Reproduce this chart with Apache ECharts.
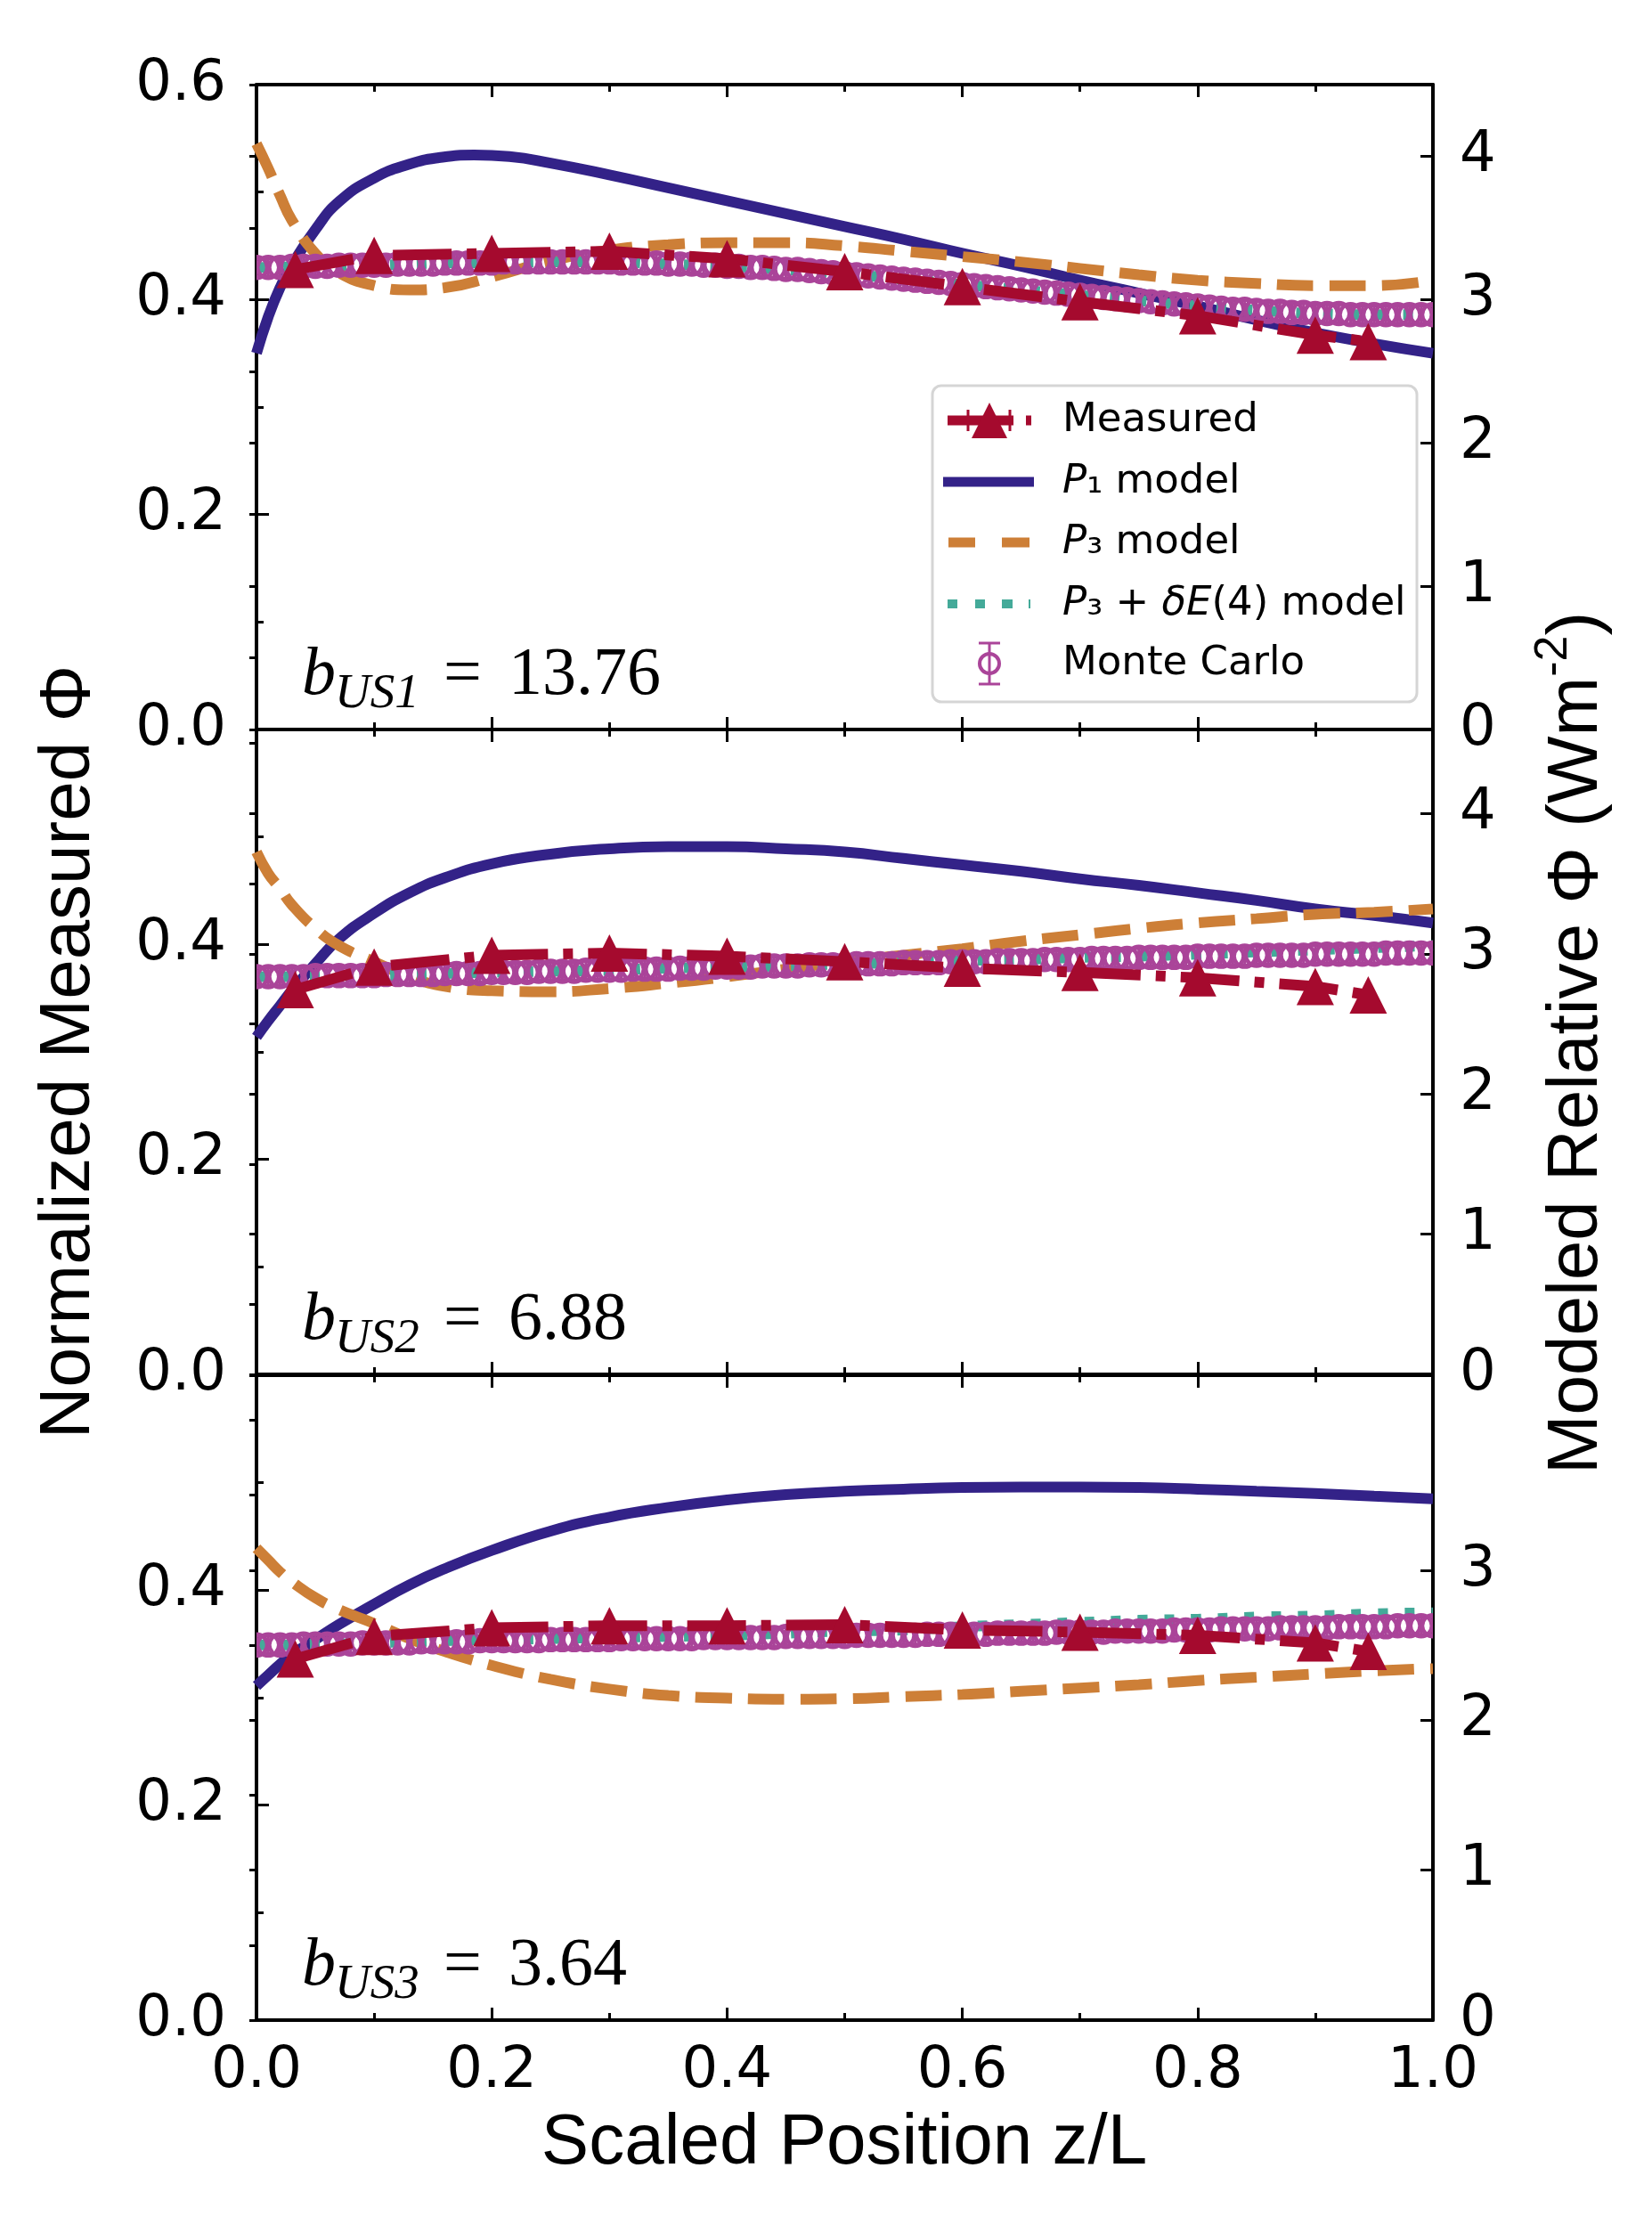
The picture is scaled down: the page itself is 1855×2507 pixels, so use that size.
<!DOCTYPE html>
<html>
<head>
<meta charset="utf-8">
<script src="https://cdn.jsdelivr.net/npm/echarts@6/dist/echarts.min.js"></script>
<style>
html,body{margin:0;padding:0;background:#ffffff;}
#chart{width:1855px;height:2507px;}
</style>
</head>
<body>
<div id="chart"></div>
<script>
// ---------------- DATA ----------------
const X_TICKS = [0.0, 0.2, 0.4, 0.6, 0.8, 1.0];
const LEFT_TICKS = [0.0, 0.2, 0.4, 0.6];
const RIGHT_MAX = [4.5, 4.6, 4.3];
const RIGHT_LABELS = [[0, 1, 2, 3, 4], [0, 1, 2, 3, 4], [0, 1, 2, 3]];
const B_SUB = ['US1', 'US2', 'US3'];
const B_VAL = ['13.76', '6.88', '3.64'];

const MODEL_X = [0, 0.01, 0.02, 0.03, 0.05, 0.07, 0.10, 0.13, 0.16, 0.20, 0.25, 0.30, 0.35,
                 0.40, 0.45, 0.50, 0.55, 0.60, 0.65, 0.70, 0.75, 0.80, 0.85, 0.90, 0.95, 1.00];
const P1_X1 = [0, 0.01, 0.02, 0.03, 0.05, 0.07, 0.10, 0.13, 0.155, 0.185, 0.215, 0.25, 0.30, 0.35,
               0.40, 0.45, 0.50, 0.55, 0.60, 0.65, 0.70, 0.75, 0.80, 0.85, 0.90, 0.95, 1.00];

const P1_B1 = [0.350, 0.384, 0.411, 0.432, 0.465, 0.491, 0.513, 0.526, 0.532, 0.5345, 0.533, 0.527, 0.516, 0.504,
               0.492, 0.480, 0.468, 0.456, 0.443, 0.431, 0.418, 0.406, 0.394, 0.381, 0.369, 0.359, 0.350];
const P3_B1 = [0.545, 0.522, 0.497, 0.474, 0.443, 0.425, 0.413, 0.409, 0.411, 0.421, 0.436, 0.446, 0.451,
               0.453, 0.453, 0.450, 0.445, 0.440, 0.435, 0.429, 0.423, 0.418, 0.415, 0.413, 0.413, 0.418];
const P3DE_B1 = [0.430, 0.430, 0.430, 0.431, 0.431, 0.432, 0.432, 0.433, 0.434, 0.434, 0.435, 0.435, 0.433,
                 0.431, 0.428, 0.424, 0.419, 0.414, 0.409, 0.404, 0.399, 0.394, 0.390, 0.387, 0.386, 0.386];

const P1_B2 = [0.314, 0.329, 0.343, 0.357, 0.382, 0.405, 0.429, 0.448, 0.462, 0.475, 0.484, 0.489, 0.491,
               0.491, 0.489, 0.486, 0.480, 0.474, 0.468, 0.461, 0.455, 0.448, 0.441, 0.433, 0.427, 0.420];
const P3_B2 = [0.486, 0.466, 0.452, 0.437, 0.415, 0.399, 0.384, 0.370, 0.361, 0.357, 0.356, 0.359, 0.364,
               0.370, 0.377, 0.384, 0.390, 0.396, 0.403, 0.409, 0.415, 0.420, 0.424, 0.428, 0.430, 0.433];
const P3DE_B2 = [0.370, 0.370, 0.370, 0.370, 0.370, 0.371, 0.371, 0.372, 0.373, 0.374, 0.375, 0.376, 0.378,
                 0.379, 0.380, 0.382, 0.383, 0.385, 0.386, 0.388, 0.389, 0.391, 0.393, 0.395, 0.397, 0.399];

const P1_B3 = [0.311, 0.321, 0.331, 0.340, 0.354, 0.368, 0.387, 0.405, 0.420, 0.437, 0.455, 0.468, 0.477,
               0.484, 0.489, 0.492, 0.494, 0.4955, 0.496, 0.496, 0.4955, 0.494, 0.492, 0.490, 0.4875, 0.485];
const P3_B3 = [0.439, 0.428, 0.417, 0.408, 0.393, 0.382, 0.369, 0.355, 0.343, 0.330, 0.317, 0.308, 0.302,
               0.2995, 0.2985, 0.299, 0.301, 0.303, 0.306, 0.309, 0.312, 0.316, 0.319, 0.322, 0.325, 0.327];
const P3DE_B3 = [0.349, 0.349, 0.349, 0.349, 0.350, 0.350, 0.351, 0.352, 0.353, 0.354, 0.355, 0.356, 0.357,
                 0.358, 0.360, 0.362, 0.363, 0.366, 0.368, 0.370, 0.372, 0.373, 0.375, 0.376, 0.378, 0.379];

const MEAS_X = [0.033, 0.10, 0.20, 0.30, 0.40, 0.50, 0.60, 0.70, 0.80, 0.90, 0.945];
const MEAS_B1 = [0.428, 0.441, 0.443, 0.445, 0.438, 0.426, 0.412, 0.398, 0.385, 0.367, 0.361];
const MEAS_B2 = [0.358, 0.379, 0.390, 0.392, 0.389, 0.384, 0.378, 0.374, 0.369, 0.361, 0.353];
const MEAS_B3 = [0.336, 0.357, 0.365, 0.367, 0.367, 0.368, 0.363, 0.361, 0.358, 0.351, 0.343];

const MC_X = [0.00, 0.01, 0.02, 0.03, 0.04, 0.05, 0.06, 0.07, 0.08, 0.09, 0.10,
              0.11, 0.12, 0.13, 0.14, 0.15, 0.16, 0.17, 0.18, 0.19, 0.20,
              0.21, 0.22, 0.23, 0.24, 0.25, 0.26, 0.27, 0.28, 0.29, 0.30,
              0.31, 0.32, 0.33, 0.34, 0.35, 0.36, 0.37, 0.38, 0.39, 0.40,
              0.41, 0.42, 0.43, 0.44, 0.45, 0.46, 0.47, 0.48, 0.49, 0.50,
              0.51, 0.52, 0.53, 0.54, 0.55, 0.56, 0.57, 0.58, 0.59, 0.60,
              0.61, 0.62, 0.63, 0.64, 0.65, 0.66, 0.67, 0.68, 0.69, 0.70,
              0.71, 0.72, 0.73, 0.74, 0.75, 0.76, 0.77, 0.78, 0.79, 0.80,
              0.81, 0.82, 0.83, 0.84, 0.85, 0.86, 0.87, 0.88, 0.89, 0.90,
              0.91, 0.92, 0.93, 0.94, 0.95, 0.96, 0.97, 0.98, 0.99, 1.00];
const MC_B1 = [0.430, 0.430, 0.430, 0.431, 0.431, 0.431, 0.431, 0.432, 0.432, 0.432, 0.432,
               0.432, 0.433, 0.433, 0.433, 0.433, 0.434, 0.434, 0.434, 0.434, 0.434,
               0.435, 0.435, 0.435, 0.435, 0.435, 0.435, 0.435, 0.435, 0.435, 0.435,
               0.434, 0.434, 0.434, 0.434, 0.433, 0.433, 0.433, 0.432, 0.432, 0.431,
               0.431, 0.430, 0.430, 0.429, 0.428, 0.428, 0.427, 0.426, 0.425, 0.424,
               0.423, 0.422, 0.421, 0.420, 0.419, 0.418, 0.417, 0.416, 0.415, 0.414,
               0.413, 0.412, 0.411, 0.410, 0.409, 0.408, 0.407, 0.406, 0.405, 0.404,
               0.403, 0.402, 0.401, 0.400, 0.399, 0.398, 0.397, 0.396, 0.395, 0.394,
               0.393, 0.392, 0.391, 0.391, 0.390, 0.389, 0.389, 0.388, 0.388, 0.387,
               0.387, 0.387, 0.386, 0.386, 0.386, 0.386, 0.386, 0.386, 0.386, 0.386];
const MC_B2 = [0.370, 0.370, 0.370, 0.370, 0.370, 0.371, 0.371, 0.371, 0.371, 0.371, 0.371,
               0.372, 0.372, 0.372, 0.372, 0.372, 0.373, 0.373, 0.373, 0.373, 0.374,
               0.374, 0.374, 0.374, 0.375, 0.375, 0.375, 0.375, 0.376, 0.376, 0.376,
               0.376, 0.377, 0.377, 0.377, 0.377, 0.378, 0.378, 0.378, 0.379, 0.379,
               0.379, 0.379, 0.380, 0.380, 0.380, 0.380, 0.381, 0.381, 0.381, 0.381,
               0.382, 0.382, 0.382, 0.382, 0.383, 0.383, 0.383, 0.383, 0.384, 0.384,
               0.384, 0.384, 0.385, 0.385, 0.385, 0.385, 0.386, 0.386, 0.386, 0.386,
               0.387, 0.387, 0.387, 0.387, 0.388, 0.388, 0.388, 0.388, 0.388, 0.389,
               0.389, 0.389, 0.389, 0.389, 0.390, 0.390, 0.390, 0.390, 0.390, 0.391,
               0.391, 0.391, 0.391, 0.391, 0.391, 0.392, 0.392, 0.392, 0.392, 0.392];
const MC_B3 = [0.349, 0.349, 0.349, 0.349, 0.350, 0.350, 0.350, 0.350, 0.350, 0.351, 0.351,
               0.351, 0.351, 0.351, 0.352, 0.352, 0.352, 0.352, 0.352, 0.353, 0.353,
               0.353, 0.353, 0.353, 0.353, 0.354, 0.354, 0.354, 0.354, 0.354, 0.354,
               0.355, 0.355, 0.355, 0.355, 0.355, 0.355, 0.355, 0.356, 0.356, 0.356,
               0.356, 0.356, 0.356, 0.356, 0.357, 0.357, 0.357, 0.357, 0.357, 0.357,
               0.358, 0.358, 0.358, 0.358, 0.358, 0.358, 0.359, 0.359, 0.359, 0.359,
               0.359, 0.359, 0.360, 0.360, 0.360, 0.360, 0.360, 0.361, 0.361, 0.361,
               0.361, 0.361, 0.362, 0.362, 0.362, 0.362, 0.362, 0.363, 0.363, 0.363,
               0.363, 0.364, 0.364, 0.364, 0.364, 0.364, 0.365, 0.365, 0.365, 0.365,
               0.365, 0.366, 0.366, 0.366, 0.366, 0.366, 0.367, 0.367, 0.367, 0.367];
const MC_ERR = [0.008, 0.008, 0.008];

const P1_XS = [P1_X1, MODEL_X, MODEL_X];
const P1 = [P1_B1, P1_B2, P1_B3];
const P3 = [P3_B1, P3_B2, P3_B3];
const P3DE = [P3DE_B1, P3DE_B2, P3DE_B3];
const MEAS = [MEAS_B1, MEAS_B2, MEAS_B3];
const MC = [MC_B1, MC_B2, MC_B3];

// ---------------- STYLE / LAYOUT ----------------
const C_RED = '#A50A2E', C_BLUE = '#332288', C_ORANGE = '#CD7F37', C_TEAL = '#44AA99', C_PURPLE = '#AA4499';
const BLACK = '#000000';
const L = 288, W = 1321, H = 724;
const TOPS = [95, 819, 1544];
const TICK_FONT = 'DejaVu Sans';
const TITLE_FONT = 'Liberation Sans';
const LW = 12;

const pairs = (xs, ys) => xs.map((x, k) => [x, ys[k]]);

const grids = [], xAxes = [], yAxes = [], series = [], graphics = [];
for (let i = 0; i < 3; i++) {
  grids.push({left: L, top: TOPS[i], width: W, height: H, containLabel: false});
  const axLine = {show: true, onZero: false, lineStyle: {color: BLACK, width: 4}};
  const tick = {show: true, inside: true, length: 14, lineStyle: {color: BLACK, width: 3}};
  const minor = {show: true, splitNumber: 2, length: 8, lineStyle: {color: BLACK, width: 3}};
  const lab = {color: BLACK, fontSize: 64, fontFamily: TICK_FONT};
  xAxes.push({
    gridIndex: i, type: 'value', position: 'bottom', min: X_TICKS[0], max: X_TICKS[X_TICKS.length - 1], interval: 0.2,
    axisLine: axLine, axisTick: tick, minorTick: minor, splitLine: {show: false}, minorSplitLine: {show: false},
    axisLabel: Object.assign({show: i === 2, margin: 26, formatter: v => v.toFixed(1)}, lab)
  });
  xAxes.push({
    gridIndex: i, type: 'value', position: 'top', min: 0, max: 1, interval: 0.2,
    axisLine: axLine, axisTick: tick, minorTick: minor, splitLine: {show: false}, axisLabel: {show: false}
  });
  yAxes.push({
    gridIndex: i, type: 'value', position: 'left', min: LEFT_TICKS[0], max: LEFT_TICKS[LEFT_TICKS.length - 1], interval: 0.2,
    axisLine: axLine, axisTick: tick, minorTick: minor, splitLine: {show: false}, minorSplitLine: {show: false},
    axisLabel: Object.assign({margin: 34, formatter: v => (i > 0 && v > 0.55) ? '' : v.toFixed(1)}, lab)
  });
  const rl = RIGHT_LABELS[i];
  yAxes.push({
    gridIndex: i, type: 'value', position: 'right', min: 0, max: RIGHT_MAX[i], interval: 1,
    axisLine: axLine,
    axisTick: Object.assign({}, tick, {customValues: rl}),
    splitLine: {show: false},
    axisLabel: Object.assign({margin: 30, customValues: rl,
      formatter: v => (Number.isInteger(v) && rl.indexOf(v) >= 0) ? String(v) : ''}, lab)
  });
  yAxes.push({
    gridIndex: i, type: 'value', position: 'right', min: 0, max: RIGHT_MAX[i], interval: 0.5,
    axisLine: {show: false}, splitLine: {show: false}, axisLabel: {show: false},
    axisTick: {show: true, inside: true, length: 8, lineStyle: {color: BLACK, width: 3}}
  });

  const xi = 2 * i, yi = 3 * i;
  series.push({
    name: 'P1 model', type: 'line', xAxisIndex: xi, yAxisIndex: yi, z: 2, smooth: 0.5, showSymbol: false, symbol: 'none',
    data: pairs(P1_XS[i], P1[i]), lineStyle: {color: C_BLUE, width: LW}
  });
  series.push({
    name: 'P3 model', type: 'line', xAxisIndex: xi, yAxisIndex: yi, z: 2, smooth: 0.5, showSymbol: false, symbol: 'none',
    data: pairs(MODEL_X, P3[i]), lineStyle: {color: C_ORANGE, width: LW, type: [41, 18], cap: 'butt'}
  });
  series.push({
    name: 'P3+dE(4) model', type: 'line', xAxisIndex: xi, yAxisIndex: yi, z: 3, smooth: 0.5, showSymbol: false, symbol: 'none',
    data: pairs(MODEL_X, P3DE[i]), lineStyle: {color: C_TEAL, width: LW, type: [11, 19], cap: 'butt'}
  });
  series.push({
    name: 'Monte Carlo', type: 'custom', xAxisIndex: xi, yAxisIndex: yi, z: 4, clip: true,
    data: MC_X.map((x, k) => [x, MC[i][k], MC_ERR[i]]),
    renderItem: function (params, api) {
      const x = api.value(0), y = api.value(1), e = api.value(2);
      const p = api.coord([x, y]);
      const t = api.coord([x, y + e]);
      const b = api.coord([x, y - e]);
      const st = {stroke: C_PURPLE, lineWidth: 3, fill: null};
      return {type: 'group', children: [
        {type: 'line', shape: {x1: p[0], y1: t[1], x2: p[0], y2: b[1]}, style: st},
        {type: 'line', shape: {x1: p[0] - 5, y1: t[1], x2: p[0] + 5, y2: t[1]}, style: st},
        {type: 'line', shape: {x1: p[0] - 5, y1: b[1], x2: p[0] + 5, y2: b[1]}, style: st},
        {type: 'circle', shape: {cx: p[0], cy: p[1], r: 12}, style: {stroke: C_PURPLE, lineWidth: 4.5, fill: null}}
      ]};
    }
  });
  series.push({
    name: 'Measured', type: 'line', xAxisIndex: xi, yAxisIndex: yi, z: 5, symbol: 'triangle', symbolSize: 42,
    showSymbol: true, data: pairs(MEAS_X, MEAS[i]),
    itemStyle: {color: C_RED, borderWidth: 0},
    lineStyle: {color: C_RED, width: 12, type: [66, 17, 11, 17], cap: 'butt'}
  });

  // b labels
  const bottom = TOPS[i] + H;
  const serif = '"Liberation Serif"';
  graphics.push({type: 'text', x: 339, y: bottom - 60, z: 50,
    style: {text: 'b', font: 'italic 76px ' + serif, fill: BLACK, textAlign: 'left', textVerticalAlign: 'middle', align: 'left', verticalAlign: 'middle'}});
  graphics.push({type: 'text', x: 376, y: bottom - 39, z: 50,
    style: {text: B_SUB[i], font: 'italic 55px ' + serif, fill: BLACK, textAlign: 'left', textVerticalAlign: 'middle', align: 'left', verticalAlign: 'middle'}});
  graphics.push({type: 'text', x: 498, y: bottom - 60, z: 50,
    style: {text: '=', font: '76px ' + serif, fill: BLACK, textAlign: 'left', textVerticalAlign: 'middle', align: 'left', verticalAlign: 'middle'}});
  graphics.push({type: 'text', x: 571, y: bottom - 60, z: 50,
    style: {text: B_VAL[i], font: '76px ' + serif, fill: BLACK, textAlign: 'left', textVerticalAlign: 'middle', align: 'left', verticalAlign: 'middle'}});
}

// axis titles
graphics.push({type: 'text', x: 78, y: 1181, rotation: Math.PI / 2, z: 50,
  style: {text: 'Normalized Measured Φ', font: '80px "' + TITLE_FONT + '"', fill: BLACK,
    textAlign: 'center', textVerticalAlign: 'middle', align: 'center', verticalAlign: 'middle'}});
graphics.push({type: 'text', x: 948, y: 2407, z: 50,
  style: {text: 'Scaled Position z/L', font: '80px "' + TITLE_FONT + '"', fill: BLACK,
    textAlign: 'center', textVerticalAlign: 'middle', align: 'center', verticalAlign: 'middle'}});
graphics.push({type: 'text', x: 1765, y: 1171, rotation: Math.PI / 2, z: 50,
  style: {text: '{a|Modeled Relative Φ (Wm}{s|-2}{a|)}', fill: BLACK,
    textAlign: 'center', textVerticalAlign: 'middle', align: 'center', verticalAlign: 'middle',
    rich: {
      a: {fontSize: 80, fontFamily: TITLE_FONT, fill: BLACK, color: BLACK, lineHeight: 92, verticalAlign: 'bottom'},
      s: {fontSize: 52, fontFamily: TITLE_FONT, fill: BLACK, color: BLACK, lineHeight: 92, verticalAlign: 'top'}
    }}});

// legend (drawn manually)
const LG = {x: 1047, y: 433, w: 544, h: 355};
const rowsY = [472, 541, 609, 678, 745];
const lg = [];
lg.push({type: 'rect', shape: {x: LG.x, y: LG.y, width: LG.w, height: LG.h, r: 10},
  style: {fill: 'rgba(255,255,255,0.8)', stroke: '#d5d5d5', lineWidth: 3}});
// Measured handle
lg.push({type: 'line', shape: {x1: 1064, y1: rowsY[0], x2: 1138, y2: rowsY[0]}, style: {stroke: C_RED, lineWidth: 11}});
lg.push({type: 'line', shape: {x1: 1152, y1: rowsY[0], x2: 1158, y2: rowsY[0]}, style: {stroke: C_RED, lineWidth: 11}});
lg.push({type: 'line', shape: {x1: 1087, y1: rowsY[0] - 12, x2: 1087, y2: rowsY[0] + 12}, style: {stroke: C_RED, lineWidth: 3}});
lg.push({type: 'line', shape: {x1: 1134, y1: rowsY[0] - 12, x2: 1134, y2: rowsY[0] + 12}, style: {stroke: C_RED, lineWidth: 3}});
lg.push({type: 'polygon', shape: {points: [[1111, rowsY[0] - 20], [1091, rowsY[0] + 20], [1131, rowsY[0] + 20]]}, style: {fill: C_RED}});
// P1 handle
lg.push({type: 'line', shape: {x1: 1059, y1: rowsY[1], x2: 1161, y2: rowsY[1]}, style: {stroke: C_BLUE, lineWidth: 11}});
// P3 handle
lg.push({type: 'line', shape: {x1: 1065, y1: rowsY[2], x2: 1095, y2: rowsY[2]}, style: {stroke: C_ORANGE, lineWidth: 11}});
lg.push({type: 'line', shape: {x1: 1125, y1: rowsY[2], x2: 1156, y2: rowsY[2]}, style: {stroke: C_ORANGE, lineWidth: 11}});
// P3+dE handle
[[1064, 1075], [1095, 1106], [1125, 1137], [1155, 1157]].forEach(s => {
  lg.push({type: 'line', shape: {x1: s[0], y1: rowsY[3], x2: s[1], y2: rowsY[3]}, style: {stroke: C_TEAL, lineWidth: 10}});
});
// MC handle
lg.push({type: 'line', shape: {x1: 1111, y1: rowsY[4] - 23, x2: 1111, y2: rowsY[4] + 23}, style: {stroke: C_PURPLE, lineWidth: 3}});
lg.push({type: 'line', shape: {x1: 1099, y1: rowsY[4] - 23, x2: 1123, y2: rowsY[4] - 23}, style: {stroke: C_PURPLE, lineWidth: 3}});
lg.push({type: 'line', shape: {x1: 1099, y1: rowsY[4] + 23, x2: 1123, y2: rowsY[4] + 23}, style: {stroke: C_PURPLE, lineWidth: 3}});
lg.push({type: 'circle', shape: {cx: 1111, cy: rowsY[4], r: 11}, style: {stroke: C_PURPLE, lineWidth: 4, fill: null}});
// legend labels
const LRICH = {
  r: {fontSize: 45, fontFamily: TICK_FONT, fill: BLACK, color: BLACK},
  s: {fontSize: 45, fontFamily: TICK_FONT, fill: BLACK, color: BLACK},
  i: {fontSize: 45, fontFamily: TICK_FONT, fontStyle: 'italic', fill: BLACK, color: BLACK}
};
const LEG_TEXT = ['{r|Measured}', '{i|P}{s|₁}{r| model}', '{i|P}{s|₃}{r| model}', '{i|P}{s|₃}{r| + }{i|δE}{r|(4) model}', '{r|Monte Carlo}'];
LEG_TEXT.forEach((t, k) => {
  lg.push({type: 'text', x: 1193, y: rowsY[k],
    style: {text: t, rich: LRICH, fill: BLACK, textAlign: 'left', textVerticalAlign: 'middle', align: 'left', verticalAlign: 'middle'}});
});
graphics.push({type: 'group', z: 60, children: lg});

const chart = echarts.init(document.getElementById('chart'), null, {renderer: 'canvas', width: 1855, height: 2507});
chart.setOption({
  backgroundColor: '#ffffff',
  animation: false,
  grid: grids,
  xAxis: xAxes,
  yAxis: yAxes,
  series: series,
  graphic: graphics
});
</script>
</body>
</html>
